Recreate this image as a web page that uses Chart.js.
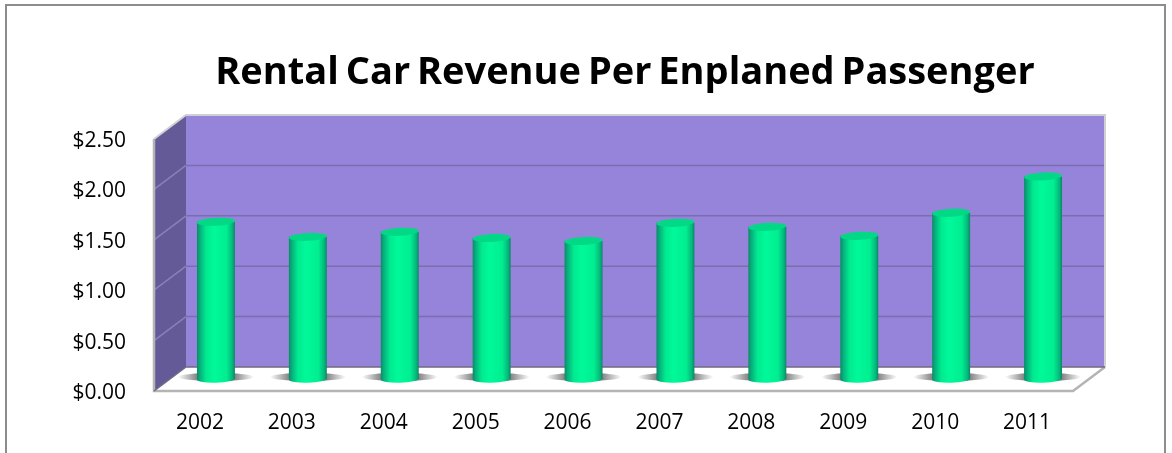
<!DOCTYPE html>
<html>
<head>
<meta charset="utf-8">
<style>
  html, body { margin: 0; padding: 0; background: #fff; }
  #wrap { width: 1172px; height: 453px; }
</style>
<script src="https://cdn.jsdelivr.net/npm/chart.js@4/dist/chart.umd.min.js"></script>
</head>
<body>
<div id="wrap"><canvas id="chart" width="1172" height="453"></canvas></div>
<script>
const years = ["2002", "2003", "2004", "2005", "2006", "2007", "2008", "2009", "2010", "2011"];
const revenue = [1.56, 1.41, 1.46, 1.40, 1.37, 1.55, 1.51, 1.42, 1.65, 2.01];
const chartTitle = "Rental Car Revenue Per Enplaned Passenger";

// 3D look: how far the back wall sits from the front plane
const DEPTH_X = 32;
const DEPTH_Y = 24;
// bars stand halfway along the floor
const BAR_X = 16;
const BAR_Y = 12;
const BAR_SHARE = 0.413;

const ctx = document.getElementById("chart").getContext("2d");

function barGradient(cx, width) {
  const left = cx - width / 2;
  const g = ctx.createLinearGradient(left, 0, left + width, 0);
  g.addColorStop(0, "#0c8a66");
  g.addColorStop(0.08, "#06b07c");
  g.addColorStop(0.24, "#01ea90");
  g.addColorStop(0.45, "#00f99a");
  g.addColorStop(0.78, "#00ee90");
  g.addColorStop(0.93, "#05b87c");
  g.addColorStop(1, "#0c8666");
  return g;
}

const framePlugin = {
  id: "frame",
  afterLayout(chart) {
    // the title is centred on the plot with its depth, not on the plot alone
    chart.titleBlock.left = 0;
    chart.titleBlock.right = 1250;
  },
  beforeDraw(chart) {
    const c = chart.ctx;
    c.save();
    c.fillStyle = "#fff";
    c.fillRect(0, 0, chart.width, chart.height);
    c.strokeStyle = "#8c8c8c";
    c.lineWidth = 2;
    c.beginPath();
    c.moveTo(6, chart.height + 2);
    c.lineTo(6, 5);
    c.lineTo(1165, 5);
    c.lineTo(1165, chart.height + 2);
    c.stroke();
    c.restore();
    c.wordSpacing = "-3px";
  },
  beforeDatasetsDraw(chart) {
    const c = chart.ctx;
    const { left, right } = chart.chartArea;
    const y = chart.scales.y;
    const top = y.getPixelForValue(2.5);
    const base = y.getPixelForValue(0);
    c.save();

    // back wall
    c.fillStyle = "#9684db";
    c.fillRect(left + DEPTH_X, top - DEPTH_Y, right - left, base - top);

    // side wall
    c.fillStyle = "#655a98";
    c.beginPath();
    c.moveTo(left, top);
    c.lineTo(left + DEPTH_X, top - DEPTH_Y);
    c.lineTo(left + DEPTH_X, base - DEPTH_Y);
    c.lineTo(left, base);
    c.closePath();
    c.fill();

    // floor
    c.fillStyle = "#fff";
    c.beginPath();
    c.moveTo(left, base);
    c.lineTo(left + DEPTH_X, base - DEPTH_Y);
    c.lineTo(right + DEPTH_X, base - DEPTH_Y);
    c.lineTo(right, base);
    c.closePath();
    c.fill();

    // gridlines run along the side wall and back wall
    y.ticks.forEach((t) => {
      const py = y.getPixelForValue(t.value);
      if (t.value > 0 && t.value < 2.5) {
        c.strokeStyle = "#8a80b8";
        c.lineWidth = 1.5;
        c.beginPath();
        c.moveTo(left, py);
        c.lineTo(left + DEPTH_X, py - DEPTH_Y);
        c.stroke();
        c.strokeStyle = "#7c6eae";
        c.beginPath();
        c.moveTo(left + DEPTH_X, py - DEPTH_Y);
        c.lineTo(right + DEPTH_X, py - DEPTH_Y);
        c.stroke();
      }
    });

    // wall and floor edges
    c.lineWidth = 2;
    c.strokeStyle = "#cfcfd4";
    c.beginPath();
    c.moveTo(left, top);
    c.lineTo(left + DEPTH_X, top - DEPTH_Y);
    c.lineTo(right + DEPTH_X, top - DEPTH_Y);
    c.lineTo(right + DEPTH_X, base - DEPTH_Y);
    c.stroke();
    c.strokeStyle = "#b4b4b4";
    c.lineWidth = 2.5;
    c.beginPath();
    c.moveTo(left, top);
    c.lineTo(left, base);
    c.lineTo(right, base);
    c.lineTo(right + DEPTH_X, base - DEPTH_Y);
    c.stroke();
    c.strokeStyle = "#6f6a80";
    c.lineWidth = 1.5;
    c.beginPath();
    c.moveTo(left, base);
    c.lineTo(left + DEPTH_X, base - DEPTH_Y);
    c.lineTo(right + DEPTH_X, base - DEPTH_Y);
    c.stroke();
    c.restore();
  },
  beforeDatasetDraw(chart, args) {
    const c = chart.ctx;
    const els = chart.getDatasetMeta(args.index).data;
    c.save();
    c.translate(BAR_X, BAR_Y * -1);
    // floor shadow behind each bar
    els.forEach((el) => {
      const w = el.width * 2;
      const g = c.createLinearGradient(el.x - w / 2, 0, el.x + w / 2, 0);
      g.addColorStop(0, "rgba(100,100,100,0)");
      g.addColorStop(0.27, "rgba(100,100,100,0.85)");
      g.addColorStop(0.73, "rgba(100,100,100,0.85)");
      g.addColorStop(1, "rgba(100,100,100,0)");
      c.fillStyle = g;
      c.beginPath();
      c.ellipse(el.x, el.base - 2, w / 2, 4, 0, 0, Math.PI * 2);
      c.fill();
    });
    // round bottom of the cylinder
    els.forEach((el) => {
      c.fillStyle = barGradient(el.x, el.width);
      c.beginPath();
      c.ellipse(el.x, el.base, el.width / 2, 3.7, -0.03, 0, Math.PI * 2);
      c.fill();
    });
  },
  afterDatasetDraw(chart, args) {
    const c = chart.ctx;
    // round top of the cylinder
    chart.getDatasetMeta(args.index).data.forEach((el) => {
      c.fillStyle = "#02d886";
      c.beginPath();
      c.ellipse(el.x, el.y, el.width / 2, 4, -0.05, 0, Math.PI * 2);
      c.fill();
    });
    c.restore();
  },
};

new Chart(ctx, {
  type: "bar",
  data: {
    labels: years,
    datasets: [
      {
        data: revenue,
        barPercentage: BAR_SHARE,
        categoryPercentage: 1,
        backgroundColor: (c) => {
          const x = c.chart.scales.x;
          if (c.type !== "data" || !x) return "#00f093";
          const cx = x.getPixelForValue(c.dataIndex);
          // scale has no pixels yet on the first pass, before layout
          if (!Number.isFinite(cx) || !x.width) return "#00f093";
          return barGradient(cx, (x.width / years.length) * BAR_SHARE);
        },
      },
    ],
  },
  plugins: [framePlugin],
  options: {
    responsive: false,
    animation: false,
    layout: { padding: { left: 0, right: 99, top: 0, bottom: 0 } },
    plugins: {
      legend: { display: false },
      tooltip: { enabled: false },
      title: {
        display: true,
        text: chartTitle,
        color: "#000",
        font: { family: "Open Sans", size: 38, weight: "bold", lineHeight: 1.2 },
        padding: { top: 50, bottom: 43.4 },
      },
    },
    scales: {
      x: {
        grid: { display: false, drawTicks: false },
        border: { display: false },
        ticks: { color: "#000", font: { family: "Open Sans", size: 21 }, padding: 19, maxRotation: 0 },
        afterFit(scale) { scale.height = 62; },
      },
      y: {
        min: 0,
        max: 2.5,
        grid: { display: false, drawTicks: false },
        border: { display: false },
        ticks: {
          stepSize: 0.5,
          color: "#000",
          font: { family: "Open Sans", size: 21 },
          padding: 28,
          labelOffset: 2,
          callback: (v) => "$" + Number(v).toFixed(2),
        },
        afterFit(scale) { scale.width = 154; },
      },
    },
  },
});
</script>
</body>
</html>
